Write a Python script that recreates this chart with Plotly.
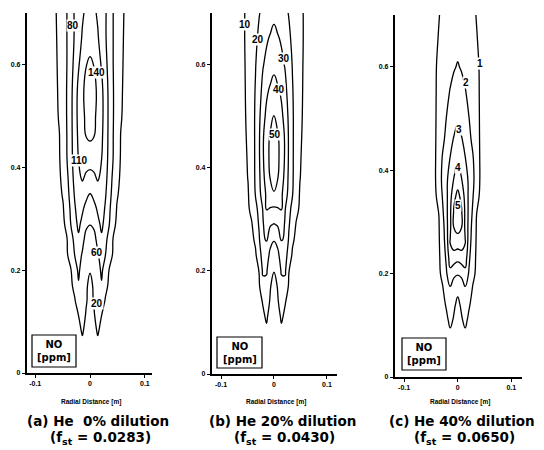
import plotly.graph_objects as go

# ---------------- data ----------------
heights = [0.0, 0.05, 0.08, 0.11, 0.14, 0.17, 0.20, 0.23, 0.26, 0.29,
           0.32, 0.35, 0.38, 0.42, 0.46, 0.50, 0.55, 0.60, 0.65, 0.70]
radial_half = [0, 0.007, 0.014, 0.021, 0.028, 0.035, 0.042, 0.049,
               0.056, 0.063, 0.07, 0.085, 0.12]

# NO [ppm], rows = heights, columns = radial_half (field is axisymmetric)
no_he0 = [
    [0, 0, 0, 0, 0, 0, 0, 0, 0, 0, 0, 0, 0],
    [3, 8, 14, 10, 5, 3, 2, 0, 0, 0, 0, 0, 0],
    [5, 13, 22, 14, 9, 5, 3, 2, 1, 0, 0, 0, 0],
    [8, 17, 30, 19.5, 12, 8, 5, 3, 2, 0, 0, 0, 0],
    [12, 22, 38, 31, 18, 12, 9, 6, 4, 2, 0, 0, 0],
    [16, 22, 45, 58, 26, 16, 11, 8, 5, 3, 1, 0, 0],
    [21, 28, 50, 64, 49, 18, 10, 7, 5, 3, 2, 0, 0],
    [35, 42, 58, 68, 60.5, 35, 17, 9, 6, 4, 2, 0, 0],
    [48, 53, 66, 77, 67, 50, 19, 9, 6, 4, 2, 0, 0],
    [61, 64, 75, 84, 74, 61, 29, 15, 8, 6, 4, 1, 0],
    [70, 74, 83, 88, 78, 66, 42, 18, 10, 7, 5, 2, 0],
    [80.5, 86, 100, 100, 82, 69, 52, 24, 13, 7, 5, 2, 0],
    [100, 106, 113, 105, 86, 71, 56, 31, 15, 8, 6, 2, 0],
    [126, 121, 116, 111, 90, 73, 60.5, 37, 18, 9, 7, 3, 0],
    [144, 140.5, 129, 116, 93, 73, 61, 39, 19, 10, 7, 3, 0],
    [149, 144, 135, 119, 95, 73, 62, 43, 23, 13, 7, 3, 0],
    [150, 145, 137, 118, 93, 73, 62, 44, 25, 14, 7.5, 3, 0],
    [143, 139.5, 124, 107, 86, 72, 60.5, 43.5, 27, 15, 7.7, 3.4, 0],
    [133, 123, 113, 98.5, 82, 71, 60.5, 44, 29, 16, 8, 3.5, 0],
    [122, 115, 106.5, 94, 82, 71, 60.5, 45, 30.5, 17.6, 9.2, 3.6, 0],
]
no_he20 = [
    [0, 0, 0, 0, 0, 0, 0, 0, 0, 0, 0, 0, 0],
    [1, 4, 6, 4, 2, 1.5, 1, 0, 0, 0, 0, 0, 0],
    [2, 5, 8.5, 6.7, 4.8, 3, 2, 1.3, 0.5, 0, 0, 0, 0],
    [3.5, 7, 11, 8.5, 6, 4.2, 3.2, 2.2, 1.4, 0.7, 0, 0, 0],
    [5, 9.2, 13.5, 10.5, 7.5, 5, 4, 3, 1.9, 1.2, 0.5, 0, 0],
    [7, 10.5, 17, 16.5, 9, 6.7, 4.7, 3.6, 2.6, 1.7, 1, 0, 0],
    [10.3, 13, 21, 21.5, 10.2, 8, 6, 4.4, 3.4, 2.3, 1.5, 0, 0],
    [15.3, 17.5, 24.5, 25.5, 14.3, 8.9, 7.4, 5.3, 4.1, 3, 2, 0.5, 0],
    [20.5, 23, 30.5, 29, 18.9, 11.1, 8.4, 6.8, 4.9, 3.8, 2.8, 1, 0],
    [29.5, 31, 35.2, 28.9, 21.1, 14.5, 9.4, 7.5, 5.6, 4.2, 3.2, 1.4, 0],
    [38.5, 39.5, 40.5, 30.5, 23, 17.1, 12.1, 8.9, 6.9, 5, 4, 1.8, 0],
    [49.5, 45.6, 41.7, 35, 27, 20.5, 14.2, 9.4, 7.5, 5.6, 4.2, 2, 0],
    [53, 50.4, 44.5, 37.1, 28, 21, 15.4, 10.2, 8.1, 6.1, 4.5, 2.3, 0],
    [55, 51.8, 46.7, 38.6, 28.9, 21.1, 15.7, 10.7, 8.3, 6.4, 4.7, 2.5, 0],
    [54, 51.2, 46, 38.6, 28.9, 21.1, 16, 11.3, 8.6, 6.7, 4.9, 2.6, 0],
    [50.5, 46.4, 42.3, 36.3, 28, 21, 16.3, 11.9, 8.9, 6.9, 5, 2.8, 0],
    [43.6, 41.5, 38.3, 32.5, 26.4, 20.5, 16.1, 12.2, 9.2, 7.2, 5.3, 2.8, 0],
    [37.6, 34.9, 32.3, 29.3, 24.3, 19.5, 16, 12.5, 9.4, 7.5, 5.6, 2.8, 0],
    [32.5, 31, 28.9, 25.3, 21.6, 18.3, 15.4, 12.5, 9.7, 7.8, 5.8, 3.1, 0],
    [28, 25.9, 23.9, 21.8, 19.6, 17.1, 14.6, 12.1, 9.7, 7.8, 5.8, 3.1, 0],
]
no_he40 = [
    [0, 0, 0, 0, 0, 0, 0, 0, 0, 0, 0, 0, 0],
    [0.2, 0.45, 0.55, 0.4, 0.25, 0.15, 0.08, 0, 0, 0, 0, 0, 0],
    [0.35, 0.66, 0.85, 0.62, 0.41, 0.29, 0.2, 0.12, 0.05, 0.02, 0, 0, 0],
    [0.6, 0.93, 1.15, 0.87, 0.63, 0.45, 0.35, 0.24, 0.14, 0.09, 0.04, 0, 0],
    [0.85, 1.1, 1.55, 1.07, 0.82, 0.6, 0.49, 0.38, 0.26, 0.17, 0.1, 0, 0],
    [1.15, 1.35, 1.85, 1.41, 0.94, 0.74, 0.57, 0.44, 0.34, 0.23, 0.15, 0, 0],
    [2.1, 2.25, 2.7, 1.9, 1.2, 0.87, 0.68, 0.54, 0.42, 0.31, 0.2, 0.05, 0],
    [3.3, 3.5, 3.5, 2.2, 1.33, 0.9, 0.72, 0.57, 0.45, 0.34, 0.23, 0.07, 0],
    [4.5, 4.5, 4.05, 2.5, 1.5, 0.93, 0.78, 0.62, 0.5, 0.39, 0.28, 0.1, 0],
    [5.35, 5.05, 3.83, 2.67, 1.63, 0.96, 0.81, 0.66, 0.54, 0.42, 0.31, 0.12, 0],
    [5.5, 5.11, 3.83, 2.75, 1.88, 1.02, 0.86, 0.72, 0.58, 0.47, 0.36, 0.15, 0],
    [5.2, 4.8, 3.63, 2.8, 2.1, 1.25, 0.9, 0.76, 0.62, 0.5, 0.39, 0.17, 0],
    [4.7, 4.09, 3.45, 2.83, 2.25, 1.5, 0.94, 0.81, 0.68, 0.55, 0.44, 0.2, 0],
    [3.9, 3.48, 3.06, 2.6, 2.13, 1.44, 0.94, 0.81, 0.68, 0.55, 0.44, 0.2, 0],
    [3.35, 3.08, 2.69, 2.25, 1.79, 1.29, 0.94, 0.81, 0.68, 0.55, 0.44, 0.2, 0],
    [2.85, 2.57, 2.28, 2.02, 1.61, 1.22, 0.94, 0.81, 0.68, 0.55, 0.44, 0.2, 0],
    [2.45, 2.25, 2.06, 1.78, 1.48, 1.17, 0.94, 0.81, 0.68, 0.55, 0.44, 0.2, 0],
    [2.05, 1.94, 1.74, 1.53, 1.32, 1.12, 0.94, 0.81, 0.68, 0.55, 0.44, 0.2, 0],
    [1.8, 1.65, 1.5, 1.35, 1.19, 1.04, 0.9, 0.77, 0.64, 0.52, 0.41, 0.18, 0],
    [1.6, 1.48, 1.35, 1.23, 1.11, 0.98, 0.85, 0.71, 0.58, 0.47, 0.36, 0.16, 0],
]

levels_he0 = [20, 60, 80, 110, 140]
levels_he20 = [10, 20, 30, 40, 50]
levels_he40 = [1, 2, 3, 4, 5]

# contour labels: (level text, radial position, height)
labels_he0 = [("80", -0.031, 0.676), ("140", 0.012, 0.585), ("110", -0.020, 0.414),
              ("60", 0.012, 0.235), ("20", 0.012, 0.136)]
labels_he20 = [("10", -0.055, 0.678), ("20", -0.030, 0.649), ("30", 0.019, 0.612),
               ("40", 0.0094, 0.552), ("50", 0.002, 0.465)]
labels_he40 = [("1", 0.0415, 0.606), ("2", 0.0146, 0.569), ("3", 0.002, 0.478),
               ("4", 0.001, 0.406), ("5", 0.001, 0.331)]

captions = ["(a) He  0% dilution", "(b) He 20% dilution", "(c) He 40% dilution"]
f_st = ["0.0283", "0.0430", "0.0650"]

x_ticks = [-0.1, 0, 0.1]
x_tick_text = ["-0.1", "0", "0.1"]
y_ticks = [0, 0.2, 0.4, 0.6]
y_tick_text = ["0", "0.2", "0.4", "0.6"]

# ---------------- figure ----------------
W, H = 544, 450
FONT = "Liberation Sans"
BOLD_WIDE = "DejaVu Sans"

radial_full = [-r for r in reversed(radial_half[1:])] + radial_half


def mirror(rows):
    return [row[:0:-1] + row for row in rows]


panels = [
    dict(z=no_he0, levels=levels_he0, labels=labels_he0,
         px=(27, 152), py=(13, 373), xr=(-0.115, 0.113),
         box=(32, 335, 76, 367), cap=98),
    dict(z=no_he20, levels=levels_he20, labels=labels_he20,
         px=(212, 337), py=(13, 374), xr=(-0.117, 0.119),
         box=(217, 337, 262, 368), cap=282),
    dict(z=no_he40, levels=levels_he40, labels=labels_he40,
         px=(395, 522), py=(15, 377), xr=(-0.117, 0.120),
         box=(402, 338, 446, 370), cap=462),
]

fig = go.Figure()
annotations = []
shapes = []
layout = dict(width=W, height=H, margin=dict(l=0, r=0, t=0, b=0, pad=0),
              paper_bgcolor="white", plot_bgcolor="white", showlegend=False,
              font=dict(family=FONT, color="black"))

for i, p in enumerate(panels):
    n = "" if i == 0 else str(i + 1)
    xa, ya = "x" + n, "y" + n
    zfull = mirror(p["z"])
    for lev in p["levels"]:
        fig.add_trace(go.Contour(
            x=radial_full, y=heights, z=zfull,
            autocontour=False,
            contours=dict(start=lev, end=lev, size=1, coloring="none", showlabels=False),
            line=dict(color="black", width=1.3, smoothing=1.3),
            showscale=False, hoverinfo="skip",
            xaxis=xa, yaxis=ya))
    x0, x1 = p["px"]
    ytop, ybot = p["py"]
    layout["xaxis" + n] = dict(
        domain=[x0 / W, x1 / W], range=list(p["xr"]), anchor=ya, automargin=False,
        tickvals=x_ticks, ticktext=["<b>%s</b>" % t for t in x_tick_text],
        ticks="outside", ticklen=3,
        tickwidth=1.2, tickcolor="black", showline=True, linecolor="black",
        linewidth=1.6, showgrid=False, zeroline=False,
        tickfont=dict(size=7, family=FONT, color="black"))
    layout["yaxis" + n] = dict(
        domain=[1 - ybot / H, 1 - ytop / H], range=[0, 0.7], anchor=xa, automargin=False,
        tickvals=y_ticks, ticktext=["<b>%s</b>" % t for t in y_tick_text],
        ticks="outside", ticklen=3,
        tickwidth=1.2, tickcolor="black", showline=True, linecolor="black",
        linewidth=2.2, showgrid=False, zeroline=False,
        tickfont=dict(size=7, family=FONT, color="black"))

    for txt, r, h in p["labels"]:
        annotations.append(dict(
            x=r, y=h, xref=xa, yref=ya, text="<b>%s</b>" % txt, showarrow=False,
            xanchor="center", yanchor="middle",
            font=dict(size=10, family=FONT, color="black"),
            bgcolor="white", borderpad=0))

    # NO [ppm] box
    bx0, by0, bx1, by1 = p["box"]
    shapes.append(dict(type="rect", xref="paper", yref="paper",
                       x0=bx0 / W, x1=bx1 / W, y0=1 - by1 / H, y1=1 - by0 / H,
                       line=dict(color="black", width=1.2), fillcolor="white",
                       layer="above"))
    annotations.append(dict(
        x=(bx0 + bx1) / 2 / W, y=1 - (by0 + by1) / 2 / H, xref="paper", yref="paper",
        text="<b>NO</b><br><b>[ppm]</b>", showarrow=False, align="center",
        xanchor="center", yanchor="middle",
        font=dict(size=10, family=BOLD_WIDE, color="black")))
    # axis title
    annotations.append(dict(
        x=((x0 + x1) / 2 + 1) / W, y=1 - 402 / H, xref="paper", yref="paper",
        text="<b>Radial Distance [m]</b>", showarrow=False,
        xanchor="center", yanchor="middle",
        font=dict(size=6.5, family=FONT, color="black")))
    # captions
    annotations.append(dict(
        x=p["cap"] / W, y=1 - 421 / H, xref="paper", yref="paper",
        text="<b>%s</b>" % captions[i], showarrow=False,
        xanchor="center", yanchor="middle",
        font=dict(size=13.5, family=BOLD_WIDE, color="black")))
    annotations.append(dict(
        x=(p["cap"] + 2) / W, y=1 - 438 / H, xref="paper", yref="paper",
        text="<b>(f<sub>st</sub> = %s)</b>" % f_st[i], showarrow=False,
        xanchor="center", yanchor="middle",
        font=dict(size=13.5, family=BOLD_WIDE, color="black")))

layout["annotations"] = annotations
layout["shapes"] = shapes
fig.update_layout(**layout)
fig.write_html("out.html", config={"displayModeBar": False},
               post_script="document.body.style.margin='0';document.body.style.overflow='hidden';")
